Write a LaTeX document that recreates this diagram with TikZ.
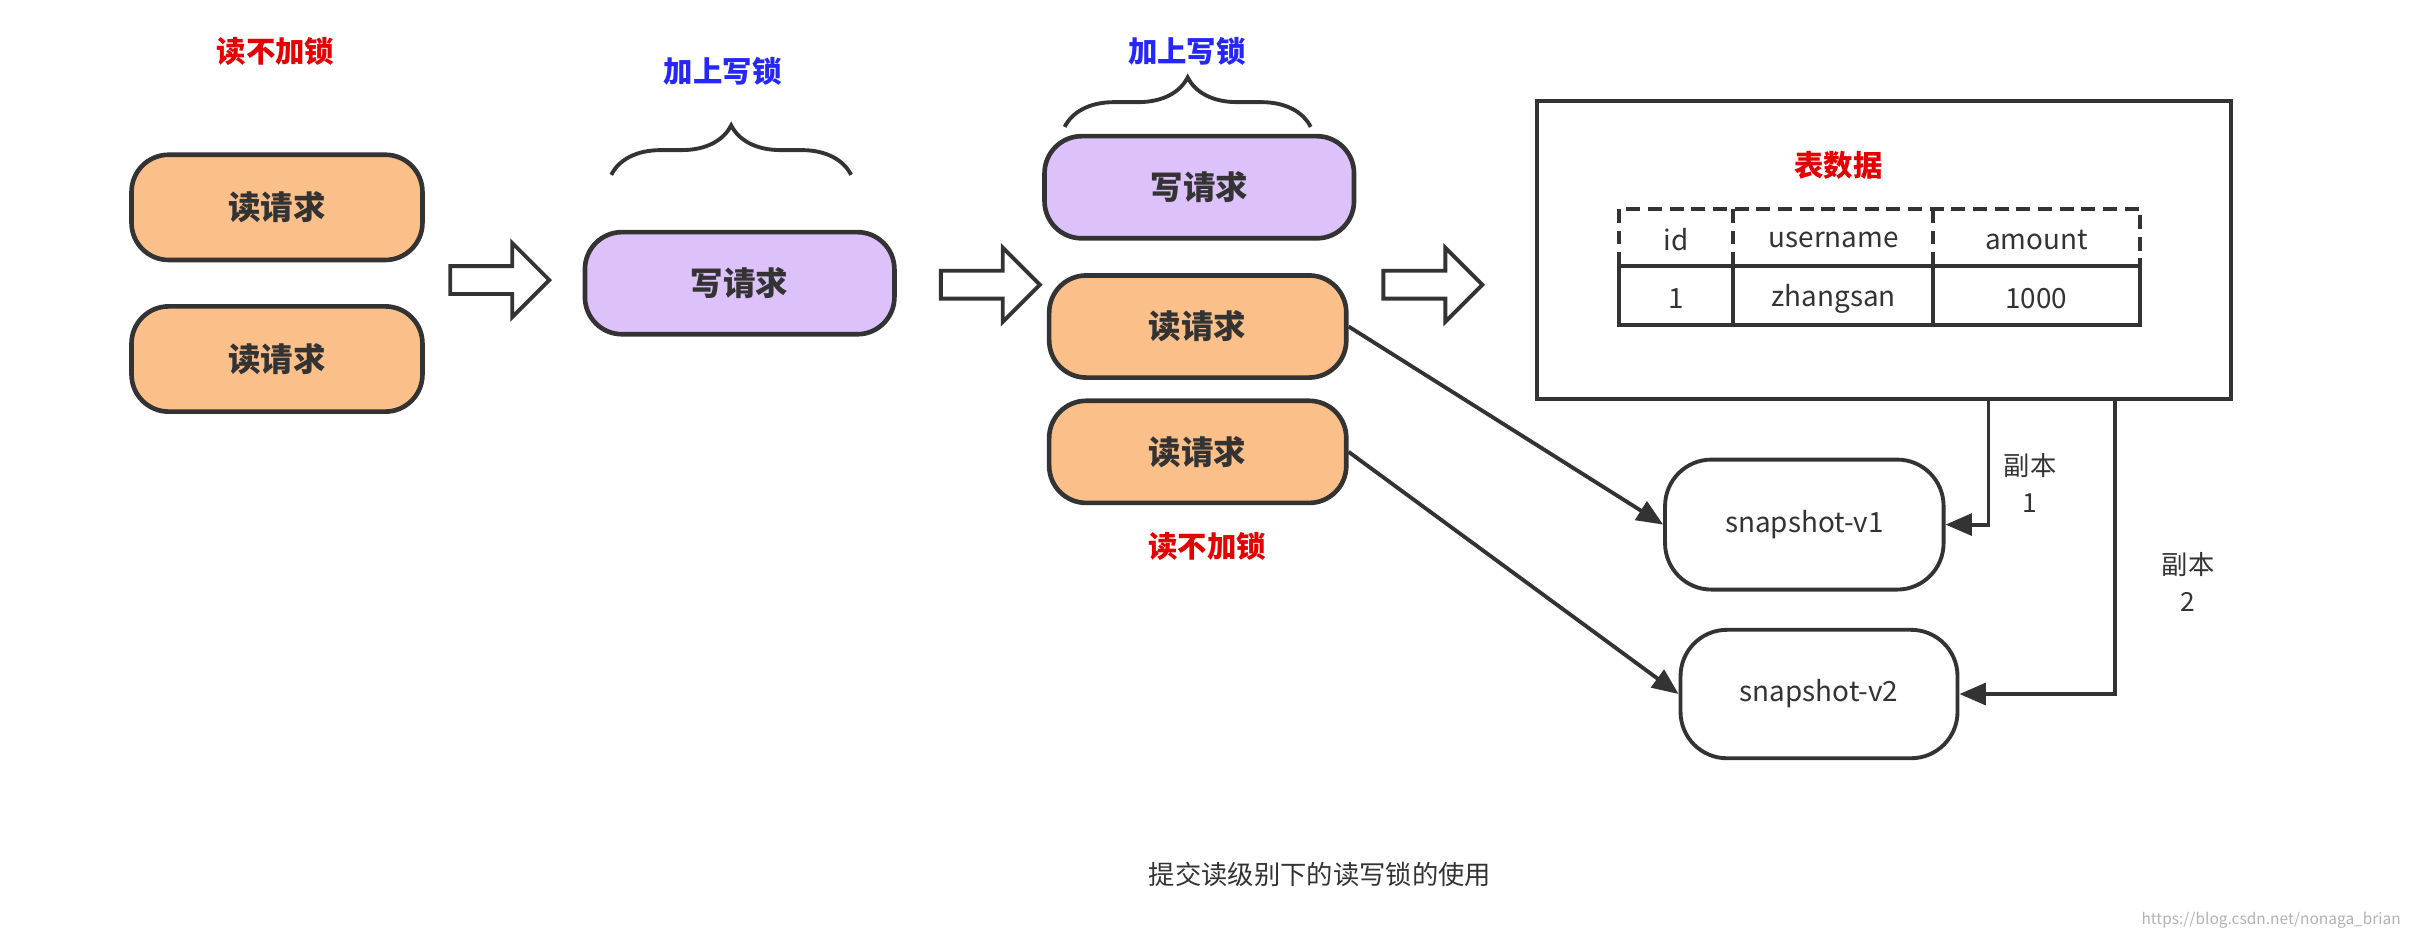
\documentclass[tikz,border=0pt]{standalone}
\usepackage{fontspec}
\setmainfont{Noto Sans CJK SC}
\usetikzlibrary{arrows.meta,decorations.pathreplacing}
\definecolor{rd}{HTML}{FBC08A}
\definecolor{wr}{HTML}{DCC1FA}
\definecolor{ln}{HTML}{333333}
\begin{document}
\begin{tikzpicture}[x=1pt,y=-1pt,
  req/.style={draw=ln,line width=3pt,rounded corners=24pt,font=\fontsize{21}{24}\selectfont\bfseries,text=ln,inner sep=0pt},
  rdq/.style={req,fill=rd,minimum width=188pt,minimum height=68pt},
  wrq/.style={req,fill=wr,minimum width=200pt,minimum height=66pt},
  snap/.style={draw=ln,line width=2.5pt,fill=white,rounded corners=30pt,minimum height=84pt,font=\fontsize{18}{20}\selectfont,text=ln,inner sep=0pt},
  redl/.style={text=red!90!black,font=\fontsize{19}{22}\selectfont\bfseries},
  bluel/.style={text=blue!85!white,font=\fontsize{19}{22}\selectfont\bfseries},
  hol/.style={draw=ln,line width=2.5pt,fill=white,line join=miter},
  brc/.style={draw=ln,line width=2.5pt,decorate,decoration={brace,amplitude=32pt,aspect=0.5}},
  con/.style={draw=ln,line width=2.5pt,-{Triangle[length=17pt,width=14pt]}},
  lbl/.style={text=ln,font=\fontsize{17}{24}\selectfont,align=center}]
\useasboundingbox (0,0) rectangle (1560,605);
\node[redl] (l1) at (178,33) {读不加锁};
\node[rdq] (r1) at (179,134) {读请求};
\node[rdq] (r2) at (179,232) {读请求};
\newcommand{\hollow}[2]{\draw[hol] (#1,#2-9) -- (#1+40,#2-9) -- (#1+40,#2-24) -- (#1+64,#2) -- (#1+40,#2+24) -- (#1+40,#2+9) -- (#1,#2+9) -- cycle;}
\hollow{291}{181}
\node[bluel] (l2) at (467,46) {加上写锁};
\draw[brc] (395,113) -- (550,113);
\node[wrq] (w1) at (478,183) {写请求};
\hollow{608}{184}
\node[bluel] (l3) at (767,33) {加上写锁};
\draw[brc] (688,82) -- (847,82);
\node[wrq] (w2) at (775,121) {写请求};
\node[rdq,minimum width=192pt,minimum height=66pt] (r3) at (774,211) {读请求};
\node[rdq,minimum width=192pt,minimum height=66pt] (r4) at (774,292) {读请求};
\node[redl] (l4) at (780,353) {读不加锁};
\hollow{894}{184}
\node[draw=ln,line width=2.5pt,minimum width=449pt,minimum height=193pt,inner sep=0pt] (box) at (1217.5,161.5) {};
\node[redl] (tt) at (1188,107) {表数据};
\draw[ln,line width=2.5pt,dash pattern=on 9pt off 5pt] (1046,172) -- (1046,135) -- (1383,135) -- (1383,172);
\draw[ln,line width=2.5pt,dash pattern=on 9pt off 5pt] (1120,135) -- (1120,172) (1249,135) -- (1249,172);
\draw[ln,line width=2.5pt] (1046,172) rectangle (1383,210) (1120,172) -- (1120,210) (1249,172) -- (1249,210);
\begin{scope}[font=\fontsize{18}{20}\selectfont,text=ln]
\node (c1) at (1083,155) {id};
\node (c2) at (1185,155) {username};
\node (c3) at (1316,155) {amount};
\node (d1) at (1083,193) {1};
\node (d2) at (1185,193) {zhangsan};
\node (d3) at (1316,193) {1000};
\end{scope}
\node[snap,minimum width=180pt] (s1) at (1166,339) {snapshot-v1};
\node[snap,minimum width=179pt,minimum height=83pt] (s2) at (1175.5,448.5) {snapshot-v2};
\draw[con] (r3.east) -- (s1.west);
\draw[con] (r4.east) -- (s2.west);
\coordinate (b1) at (1285,258);
\coordinate (b2) at (1367,258);
\draw[con] (b1) |- (s1.east);
\draw[con] (b2) |- (s2.east);
\node[lbl] (p1) at (1312,312) {副本\\1};
\node[lbl] (p2) at (1414,376) {副本\\2};
\node[lbl] (cap) at (853,565) {提交读级别下的读写锁的使用};
\node[text=gray!60,font=\fontsize{10}{12}\selectfont,anchor=east] (wm) at (1555,595) {https://blog.csdn.net/nonaga\_brian};
\end{tikzpicture}
\end{document}
